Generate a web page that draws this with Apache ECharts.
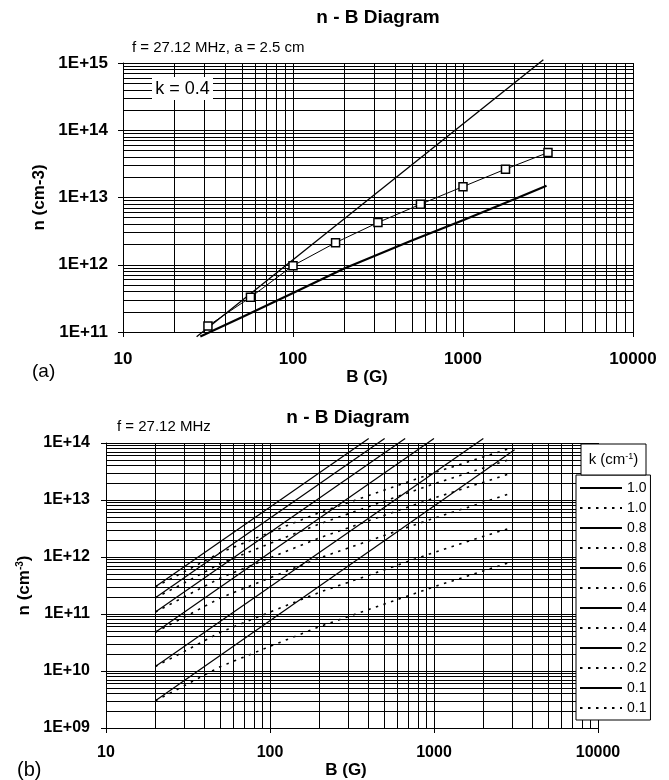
<!DOCTYPE html>
<html>
<head>
<meta charset="utf-8">
<script src="https://cdn.jsdelivr.net/npm/echarts@6/dist/echarts.min.js"></script>
<style>
html, body { margin: 0; padding: 0; background: #fff; }
#chart { width: 669px; height: 780px; }
</style>
</head>
<body>
<div id="chart"></div>
<script>
var FONT = "'Liberation Sans', Arial, sans-serif";

// (a) k = 0.4, a = 2.5 cm
var topMeasB = [31.6, 56.2, 100, 178, 316, 562, 1000, 1778, 3162];
var topMeasN = [1.23e11, 3.28e11, 9.7e11, 2.13e12, 4.24e12, 7.94e12, 1.45e13, 2.64e13, 4.66e13];
var topSteepB = [27.1, 2970];
var topSteepN = [8.5e10, 1.12e15];
var topThickB = [28.5, 50, 100, 200, 500, 1000, 2000, 3100];
var topThickN = [8.6e10, 1.66e11, 3.8e11, 8.8e11, 2.3e12, 4.6e12, 9.4e12, 1.5e13];

// (b) one solid + one dotted curve per k
var kLabels = ["1.0", "0.8", "0.6", "0.4", "0.2", "0.1"];
var solidB = [[20, 400], [20, 500], [20, 667], [20, 1000], [20, 2000], [20, 3100]];
var solidN = [
	[3.0e11, 1.2e14],
	[1.92e11, 1.2e14],
	[1.08e11, 1.2e14],
	[4.8e10, 1.2e14],
	[1.2e10, 1.2e14],
	[3.0e9, 7.6e13]
];
var dotB = [20, 30, 50, 100, 200, 500, 1000, 2000, 3000];
var dotN = [
	[3.0e11, 5.5e11, 1.2e12, 2.7e12, 6.0e12, 1.5e13, 3.0e13, 5.7e13, 8.3e13],
	[1.92e11, 3.5e11, 7.7e11, 1.73e12, 3.8e12, 9.6e12, 1.92e13, 3.65e13, 5.3e13],
	[1.08e11, 2.0e11, 4.3e11, 9.7e11, 2.16e12, 5.4e12, 1.08e13, 2.05e13, 3.0e13],
	[4.8e10, 8.8e10, 1.92e11, 4.3e11, 9.6e11, 2.4e12, 4.8e12, 9.1e12, 1.33e13],
	[1.2e10, 2.2e10, 4.8e10, 1.08e11, 2.4e11, 6.0e11, 1.2e12, 2.3e12, 3.3e12],
	[3.0e9, 5.5e9, 1.2e10, 2.7e10, 6.0e10, 1.5e11, 3.0e11, 5.7e11, 8.3e11]
];

// axis decades
var topXDecades = [10, 100, 1000, 10000];
var topYDecades = [1e11, 1e12, 1e13, 1e14, 1e15];
var botXDecades = [10, 100, 1000, 10000];
var botYDecades = [1e9, 1e10, 1e11, 1e12, 1e13, 1e14];

function pairs(xs, ys){
	return xs.map(function(x, i){ return [x, ys[i]]; });
}

// log paper lines: every decade plus 2..9 in between
function paperLines(decades){
	var out = [];
	decades.forEach(function(d, i){
		out.push(d);
		if (i === decades.length - 1) return;
		for (var m = 2; m <= 9; m++) out.push(m * d);
	});
	return out;
}

function fmtB(v){ return String(Math.round(v)); }
function fmtN(v){
	var e = Math.round(Math.log10(v));
	return "1E+" + (e < 10 ? "0" + e : e);
}

function paperSeries(idx, xs, ys){
	return {
		type: "line", xAxisIndex: idx, yAxisIndex: idx, data: [], silent: true,
		markLine: {
			silent: true, animation: false, z: 1,
			symbol: ["none", "none"],
			label: {show: false},
			emphasis: {disabled: true},
			lineStyle: {color: "#000", width: 1, type: "solid"},
			data: paperLines(xs).map(function(v){ return {xAxis: v}; })
				.concat(paperLines(ys).map(function(v){ return {yAxis: v}; }))
		}
	};
}

function xAxisCfg(idx, decades, labelSize, margin, nameGap, namePad){
	return {
		type: "log", gridIndex: idx, logBase: 10,
		min: decades[0], max: decades[decades.length - 1],
		axisLine: {show: true, onZero: false, lineStyle: {color: "#000", width: 1}},
		axisTick: {show: true, length: 5, lineStyle: {color: "#000"}},
		splitLine: {show: false},
		axisLabel: {color: "#000", fontFamily: FONT, fontWeight: "bold", fontSize: labelSize,
			margin: margin, formatter: fmtB},
		name: "B (G)", nameLocation: "middle", nameGap: nameGap,
		nameTextStyle: {color: "#000", fontFamily: FONT, fontWeight: "bold", fontSize: 17,
			padding: [0, namePad, 0, 0]}
	};
}

function yAxisCfg(idx, decades, labelSize, margin, name, nameGap){
	return {
		type: "log", gridIndex: idx, logBase: 10,
		min: decades[0], max: decades[decades.length - 1],
		axisLine: {show: true, onZero: false, lineStyle: {color: "#000", width: 1}},
		axisTick: {show: true, length: 5, lineStyle: {color: "#000"}},
		splitLine: {show: false},
		axisLabel: {color: "#000", fontFamily: FONT, fontWeight: "bold", fontSize: labelSize,
			margin: margin, formatter: fmtN},
		name: name, nameLocation: "middle", nameGap: nameGap,
		nameTextStyle: {color: "#000", fontFamily: FONT, fontWeight: "bold", fontSize: 17,
			rich: {sup: {fontSize: 10, fontWeight: "bold", fontFamily: FONT, verticalAlign: "top"}}}
	};
}

var series = [
	paperSeries(0, topXDecades, topYDecades),
	paperSeries(1, botXDecades, botYDecades),
	{
		name: "steep", type: "line", xAxisIndex: 0, yAxisIndex: 0, z: 3, clip: false,
		symbol: "none", data: pairs(topSteepB, topSteepN),
		lineStyle: {color: "#000", width: 1.3}
	},
	{
		name: "thick", type: "line", xAxisIndex: 0, yAxisIndex: 0, z: 3, clip: false,
		symbol: "none", data: pairs(topThickB, topThickN),
		lineStyle: {color: "#000", width: 2.2}
	},
	{
		name: "measured", type: "line", xAxisIndex: 0, yAxisIndex: 0, z: 4, clip: false,
		symbol: "rect", symbolSize: 8, showAllSymbol: true, data: pairs(topMeasB, topMeasN),
		lineStyle: {color: "#000", width: 1},
		itemStyle: {color: "#fff", borderColor: "#000", borderWidth: 1.5}
	}
];

var legendNames = [];
kLabels.forEach(function(k, i){
	legendNames.push("k" + k + "s", "k" + k + "d");
	series.push({
		name: "k" + k + "s", type: "line", xAxisIndex: 1, yAxisIndex: 1, z: 3, clip: false,
		symbol: "none", data: pairs(solidB[i], solidN[i]),
		lineStyle: {color: "#000", width: 1.2}
	});
	series.push({
		name: "k" + k + "d", type: "line", xAxisIndex: 1, yAxisIndex: 1, z: 3, clip: false,
		symbol: "none", data: pairs(dotB, dotN[i]),
		lineStyle: {color: "#000", width: 1.6, type: [2.5, 5.5]}
	});
});

function label(text, x, y, size, opts){
	return {
		type: "text", x: x, y: y, z: 10,
		style: textStyle(text, size, opts || {})
	};
}
function textStyle(text, size, opts){
	return {
		text: text, fill: "#000", fontFamily: FONT, fontSize: size,
		fontWeight: opts.bold ? "bold" : "normal",
		align: opts.align || "left", textAlign: opts.align || "left",
		verticalAlign: "middle", textVerticalAlign: "middle",
		rich: opts.rich
	};
}

var chart = echarts.init(document.getElementById("chart"), null, {renderer: "canvas"});
chart.setOption({
	animation: false,
	backgroundColor: "#fff",
	grid: [
		{left: 123, top: 63, width: 510, height: 269},
		{left: 106, top: 443, width: 492, height: 285}
	],
	xAxis: [
		xAxisCfg(0, topXDecades, 17, 19, 26, 22),
		xAxisCfg(1, botXDecades, 16, 17, 34, 12)
	],
	yAxis: [
		yAxisCfg(0, topYDecades, 17, 15, "n (cm-3)", 73),
		yAxisCfg(1, botYDecades, 16, 16, "n (cm{sup|-3})", 72)
	],
	legend: {
		data: legendNames,
		orient: "vertical", left: 576, top: 475,
		padding: [6, 4, 5, 3],
		itemWidth: 42, itemHeight: 10, itemGap: 6,
		backgroundColor: "#fff", borderColor: "#000", borderWidth: 1, borderRadius: 0,
		selectedMode: false,
		itemStyle: {opacity: 0},
		formatter: function(name){ return name.slice(1, 4); },
		textStyle: {color: "#000", fontFamily: FONT, fontSize: 14}
	},
	graphic: [
		label("n - B Diagram", 378, 18, 19, {bold: true, align: "center"}),
		label("f = 27.12 MHz, a = 2.5 cm", 132, 48, 15),
		{type: "rect", z: 9, shape: {x: 152, y: 77, width: 61, height: 23}, style: {fill: "#fff"}},
		label("k = 0.4", 182.5, 89, 18, {align: "center"}),
		label("(a)", 32, 372, 19),
		label("n - B Diagram", 348, 418, 19, {bold: true, align: "center"}),
		label("f = 27.12 MHz", 117, 427, 15),
		{type: "rect", z: 9, shape: {x: 581, y: 444, width: 65, height: 31},
			style: {fill: "#fff", stroke: "#000", lineWidth: 1}},
		label("k (cm{sup|-1})", 613.5, 460, 15, {align: "center",
			rich: {sup: {fontSize: 9, fontFamily: FONT, verticalAlign: "top"}}}),
		label("(b)", 17, 770, 20)
	],
	series: series
});
</script>
</body>
</html>
